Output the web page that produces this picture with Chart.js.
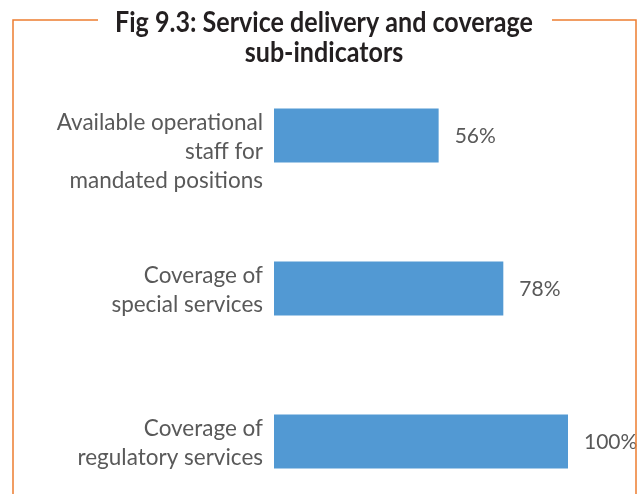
<!DOCTYPE html>
<html>
<head>
<meta charset="utf-8">
<script src="https://cdn.jsdelivr.net/npm/chart.js@4"></script>
<style>
  html, body { margin: 0; padding: 0; background: #fff; overflow: hidden; }
  #wrap { width: 640px; height: 530px; position: relative; }
</style>
</head>
<body>
<div id="wrap"><canvas id="c" width="640" height="530"></canvas></div>
<script>
const titleLines = ["Fig 9.3: Service delivery and coverage", "sub-indicators"];
const categories = [
  ["Available operational", "staff for", "mandated positions"],
  ["Coverage of", "special services"],
  ["Coverage of", "regulatory services"]
];
const values = [56, 78, 100];

const GRAY = '#595959';
const ORANGE = '#ED7D31';
const BLUE = '#5299D3';

const framePlugin = {
  id: 'frame',
  afterDraw(chart) {
    const ctx = chart.ctx;
    const H = chart.height;
    ctx.save();
    ctx.strokeStyle = ORANGE;
    ctx.lineWidth = 1.5;
    ctx.beginPath();
    ctx.moveTo(98, 20); ctx.lineTo(13, 20); ctx.lineTo(13, H);
    ctx.moveTo(552, 20); ctx.lineTo(636, 20); ctx.lineTo(636, H);
    ctx.stroke();
    // title
    ctx.fillStyle = '#231F20';
    ctx.font = "bold 28px Lato";
    ctx.textBaseline = 'alphabetic';
    ctx.textAlign = 'center';
    const w1 = ctx.measureText(titleLines[0]).width;
    const sx = 418 / w1;
    const cx = 324;
    const baselines = [31.5, 61.5];
    titleLines.forEach((t, i) => {
      ctx.save();
      ctx.translate(cx, baselines[i]);
      ctx.scale(sx, 1);
      ctx.fillText(t, 0, 0);
      ctx.restore();
    });
    ctx.restore();
  }
};

const valueLabelPlugin = {
  id: 'valueLabels',
  afterDatasetsDraw(chart) {
    const ctx = chart.ctx;
    const meta = chart.getDatasetMeta(0);
    ctx.save();
    ctx.fillStyle = GRAY;
    ctx.font = "21px Lato";
    ctx.textAlign = 'left';
    ctx.textBaseline = 'middle';
    meta.data.forEach((bar, i) => {
      ctx.fillText(values[i] + '%', bar.x + 16, bar.y + 1);
    });
    ctx.restore();
  }
};

new Chart(document.getElementById('c'), {
  type: 'bar',
  data: {
    labels: categories,
    datasets: [{
      data: values,
      backgroundColor: BLUE,
      borderWidth: 0,
      barPercentage: 0.353,
      categoryPercentage: 1
    }]
  },
  options: {
    indexAxis: 'y',
    responsive: false,
    animation: false,
    layout: { padding: { left: 0, right: 72, top: 59, bottom: 12 } },
    plugins: {
      legend: { display: false },
      tooltip: { enabled: false },
      title: { display: false }
    },
    scales: {
      x: {
        min: 0, max: 100,
        display: false
      },
      y: {
        grid: { display: false, drawTicks: false },
        border: { display: false },
        ticks: {
          color: GRAY,
          padding: 11,
          labelOffset: 2,
          font: { family: 'Lato', size: 22.5, lineHeight: 1.27 },
          callback: function(v, i) {
            const l = categories[i];
            return i === 0 ? [''].concat(l) : l;
          }
        },
        afterFit(scale) {
          scale.width = 274;
          scale.paddingTop = 0;
          scale.paddingBottom = 0;
        }
      }
    }
  },
  plugins: [framePlugin, valueLabelPlugin]
});
</script>
</body>
</html>
